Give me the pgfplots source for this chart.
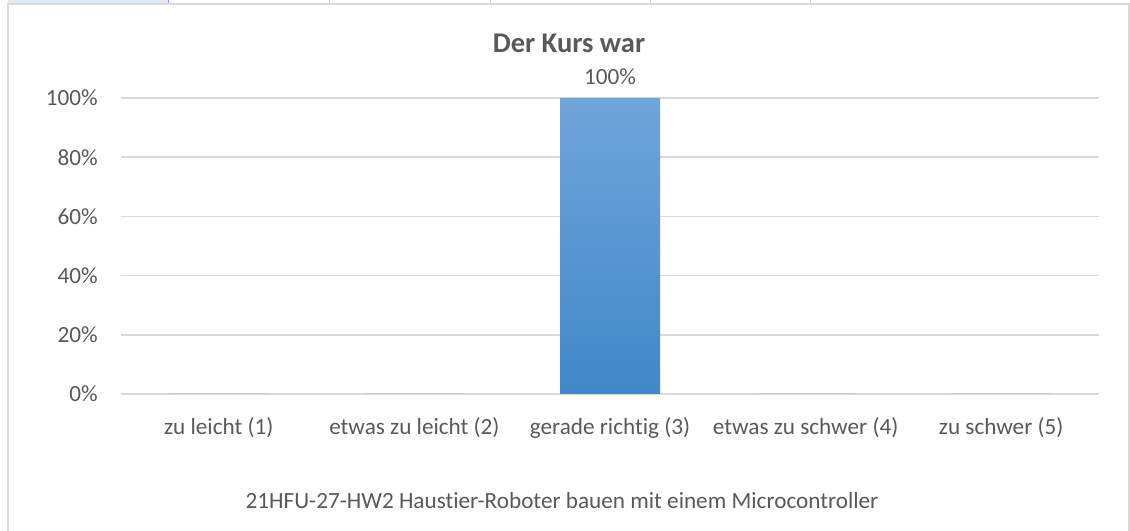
\documentclass[border=0pt]{standalone}
\usepackage{pgfplots}
\pgfplotsset{compat=1.18}
\usepackage{fontspec}
\setmainfont[Ligatures=NoCommon]{Carlito}
\definecolor{txt}{HTML}{595959}
\definecolor{gridc}{HTML}{D9D9D9}
\definecolor{barTop}{HTML}{70A5DB}
\definecolor{barBot}{HTML}{4088C8}
\definecolor{tabc}{HTML}{DDEBF7}
\begin{document}
\begin{tikzpicture}[x=0.75pt,y=0.75pt]
% image frame: px (X,Y) -> (X-121, 394-Y)
\path[use as bounding box] (-121,-137) rectangle (1009,394);
% sheet tabs and chart border
\fill[tabc] (-113,394) rectangle (47,390);
\draw[blue!40,line width=0.75pt] (47,394) -- (47,390);
\foreach \s in {329,490,650,810} \draw[gridc,line width=0.75pt] (\s-121,394) -- (\s-121,390);
\draw[gridc,line width=1.5pt] (-112.5,-140) -- (-112.5,389.5) -- (1008,389.5) -- (1008,-140);
\begin{axis}[
    at={(0,0)}, anchor=south west,
    scale only axis,
    width=733.5pt, height=222pt,
    xmin=-0.5, xmax=4.5,
    ymin=0, ymax=100,
    axis line style={draw=none},
    tick style={draw=none},
    ymajorgrids,
    grid style={gridc,line width=1.2pt},
    ytick={0,20,40,60,80,100},
    yticklabel={\pgfmathprintnumber{\tick}\%},
    yticklabel style={xshift=-14pt},
    xtick={0,1,2,3,4},
    xticklabels={zu leicht (1),etwas zu leicht (2),gerade richtig (3),etwas zu schwer (4),zu schwer (5)},
    xticklabel style={yshift=-14pt},
    ticklabel style={font=\fontsize{17.4}{20}\selectfont, text=txt},
    /pgf/number format/assume math mode=true,
    clip=false,
]
\addplot[ybar, bar width=75pt, draw=none, top color=barTop, bottom color=barBot,
    nodes near coords={\pgfmathfloatifflags{\pgfplotspointmeta}{0}{}{\pgfmathprintnumber{\pgfplotspointmeta}\%}},
    nodes near coords style={font=\fontsize{17.4}{20}\selectfont, text=txt, yshift=8.5pt, inner sep=1pt},
    ] coordinates {(0,0) (1,0) (2,100) (3,0) (4,0)};
\end{axis}
\node[text=txt, font=\bfseries\fontsize{21.4}{24}\selectfont, inner sep=1pt] at (448,351) {Der Kurs war};
\node[text=txt, font=\fontsize{17.4}{20}\selectfont] at (441,-107) {21HFU-27-HW2 Haustier-Roboter bauen mit einem Microcontroller};
\end{tikzpicture}
\end{document}
